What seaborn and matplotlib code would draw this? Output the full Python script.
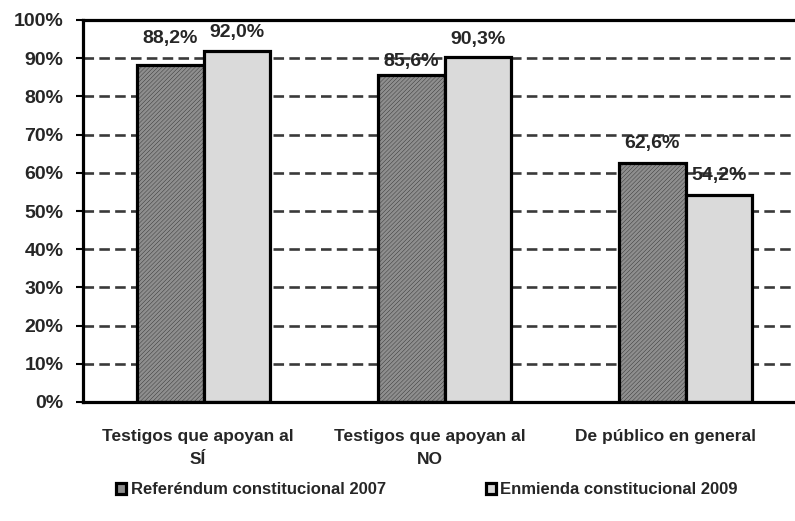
import matplotlib
matplotlib.use("Agg")
import matplotlib.pyplot as plt
import seaborn as sns
import pandas as pd

# --- data ---
CATEGORIES = ["Testigos que apoyan al\nSÍ", "Testigos que apoyan al\nNO", "De público en general"]
SERIES = ["Referéndum constitucional 2007", "Enmienda constitucional 2009"]
REF_2007 = [88.2, 85.6, 62.6]
ENM_2009 = [92.0, 90.3, 54.2]
LABELS_2007 = ["88,2%", "85,6%", "62,6%"]
LABELS_2009 = ["92,0%", "90,3%", "54,2%"]
Y_TICKS = [0, 10, 20, 30, 40, 50, 60, 70, 80, 90, 100]

# gap (px) between bar top and its value label, as placed in the reference
LABEL_GAP = [[18, 5, 11], [10, 9, 11]]
# excel nudges the category labels a little to the left
CAT_SHIFT = [-6, -15, -20]

df = pd.DataFrame({
    "categoria": CATEGORIES * 2,
    "serie": [SERIES[0]] * 3 + [SERIES[1]] * 3,
    "valor": REF_2007 + ENM_2009,
})

sns.set_style("white")
plt.rcParams["font.family"] = ["Liberation Sans", "DejaVu Sans"]
plt.rcParams["font.weight"] = "bold"
plt.rcParams["hatch.linewidth"] = 0.2

fig = plt.figure(figsize=(7.95, 5.21), dpi=100)
ax = fig.add_axes([83 / 795, 1 - 402 / 521, 723 / 795, 382 / 521])

sns.barplot(data=df, x="categoria", y="valor", hue="serie", order=CATEGORIES,
            hue_order=SERIES, palette=["#8e8e8e", "#dadada"], saturation=1,
            width=0.552, edgecolor="black", linewidth=2.3, ax=ax)

# fine texture like the excel pattern fill on the dark series
for bar in ax.containers[0]:
    bar.set_hatch("////////")

# value labels
for cont, labels, gaps in zip(ax.containers, [LABELS_2007, LABELS_2009], LABEL_GAP):
    for bar, lab, gap in zip(cont, labels, gaps):
        ax.annotate(lab, (bar.get_x() + bar.get_width() / 2, bar.get_height()),
                    xytext=(0, gap), textcoords="offset pixels",
                    ha="center", va="bottom", fontsize=14, fontweight="bold")

ax.set_ylim(0, 100)
ax.set_xlim(-0.5, 2.5)
ax.set_yticks(Y_TICKS)
ax.set_yticklabels([f"{v}%" for v in Y_TICKS], fontsize=14, fontweight="bold")
ax.yaxis.grid(True, linestyle=(0, (4, 2)), color="#3a3a3a", linewidth=1.9)
ax.set_axisbelow(True)

# boundary ticks on x, category names written under each group
ax.set_xticks([-0.5, 0.5, 1.5])
ax.set_xticklabels([])
for i, (cat, dx) in enumerate(zip(CATEGORIES, CAT_SHIFT)):
    ax.annotate(cat, (i, 0), xycoords=("data", "axes fraction"), xytext=(dx, -27),
                textcoords="offset pixels", ha="center", va="top", fontsize=12.5,
                fontweight="bold", linespacing=1.7, annotation_clip=False)
ax.tick_params(axis="x", which="major", direction="out", length=6, width=1.5, color="black")
ax.tick_params(axis="y", direction="out", length=5, width=1.5, color="black", pad=9, left=True)
ax.set_xlabel("")
ax.set_ylabel("")

for side in ["left", "bottom", "top"]:
    ax.spines[side].set_color("black")
    ax.spines[side].set_linewidth(2.3)
ax.spines["right"].set_visible(False)

ax.legend(loc="center", bbox_to_anchor=(0.537, 1 - 490 / 521), bbox_transform=fig.transFigure,
          ncol=2, frameon=False, handlelength=0.6, handleheight=0.6,
          handletextpad=0.25, columnspacing=6.0, prop={"weight": "bold", "size": 12})

fig.savefig("out.png", dpi=100)
